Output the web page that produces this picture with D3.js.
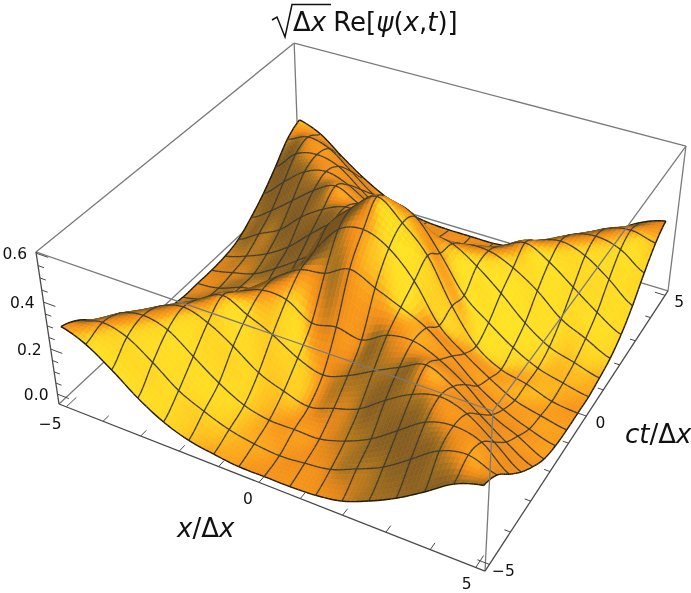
<!DOCTYPE html>
<html>
<head>
<meta charset="utf-8">
<script src="https://cdn.jsdelivr.net/npm/d3@7"></script>
<style>
  html, body { margin: 0; padding: 0; background: #fff; overflow: hidden; }
  text { font-family: "DejaVu Sans", sans-serif; fill: #111; }
  #chart { filter: blur(0.35px); }
</style>
</head>
<body>
<svg id="chart" width="691" height="593"></svg>
<script>
// mesh nodes along x and ct/dx
const gridX = [-5, -4.375, -3.75, -3.125, -2.5, -1.875, -1.25, -0.625, 0, 0.625, 1.25, 1.875, 2.5, 3.125, 3.75, 4.375, 5];
const gridY = [-5, -4.375, -3.75, -3.125, -2.5, -1.875, -1.25, -0.625, 0, 0.625, 1.25, 1.875, 2.5, 3.125, 3.75, 4.375, 5];

// surface height, one row per gridY value
const surfaceZ = [
  [.287, .248, .176, .092, .027, -.013, -.032, -.045, -.045, -.045, -.039, -.019, .027, .085, .157, .235, .274],
  [.248, .274, .248, .176, .092, .040, .000, -.022, -.032, -.022, -.006, .040, .092, .170, .248, .274, .235],
  [.176, .248, .274, .248, .170, .092, .033, .007, .007, .007, .040, .092, .170, .248, .274, .248, .157],
  [.092, .176, .248, .280, .248, .183, .105, .062, .033, .066, .105, .183, .248, .280, .248, .170, .085],
  [.027, .092, .170, .248, .300, .251, .202, .137, .101, .137, .196, .251, .300, .248, .170, .092, .027],
  [-.013, .040, .092, .183, .251, .293, .287, .222, .241, .222, .280, .293, .251, .183, .092, .040, -.019],
  [-.032, .000, .033, .105, .202, .287, .352, .371, .423, .378, .332, .280, .196, .105, .040, -.006, -.039],
  [-.045, -.022, .007, .062, .137, .222, .371, .495, .527, .482, .378, .222, .137, .066, .007, -.022, -.045],
  [-.045, -.032, .007, .033, .101, .241, .423, .527, .605, .527, .423, .241, .101, .033, .007, -.032, -.045],
  [-.045, -.022, .007, .066, .137, .222, .378, .482, .527, .495, .371, .222, .137, .062, .007, -.022, -.045],
  [-.039, -.006, .040, .105, .196, .280, .332, .378, .423, .371, .352, .287, .202, .105, .033, .000, -.032],
  [-.019, .040, .092, .183, .251, .293, .280, .222, .241, .222, .287, .293, .251, .183, .092, .040, -.013],
  [.027, .092, .170, .248, .300, .251, .196, .137, .101, .137, .202, .251, .300, .248, .170, .092, .027],
  [.085, .170, .248, .280, .248, .183, .105, .066, .033, .062, .105, .183, .248, .280, .248, .176, .092],
  [.157, .248, .274, .248, .170, .092, .040, .007, .007, .007, .033, .092, .170, .248, .274, .248, .176],
  [.235, .274, .248, .170, .092, .040, -.006, -.022, -.032, -.022, .000, .040, .092, .176, .248, .274, .248],
  [.274, .235, .157, .085, .027, -.019, -.039, -.045, -.045, -.045, -.032, -.013, .027, .092, .176, .248, .287]
];

const xTicks = [-5, -4, -3, -2, -1, 0, 1, 2, 3, 4, 5];
const xLabels = [-5, 0, 5];
const xLabelDx = [-16, -11, -9];
const zTicks = [0, .05, .1, .15, .2, .25, .3, .35, .4, .45, .5, .55, .6];
const zLabels = [0, .2, .4, .6];

const svg = d3.select('#chart');

// data -> unit box
const uScale = d3.scaleLinear().domain([-5.2, 5.2]).range([0, 1]);
const wScale = d3.scaleLinear().domain([-.045, .605]).range([0, 1]);

// camera fitted on the box corners
function project(u, v, w) {
  const d = 1 - .1153 * u + .2123 * v - .0657 * w;
  return [
    (59 + 370.1 * u + 303.7 * v - 25.4 * w) / d,
    (404 + 101.2 * u - 186 * v - 168.6 * w) / d,
    d
  ];
}

function catmull(p0, p1, p2, p3, t) {
  return .5 * (2 * p1 + (p2 - p0) * t + (2 * p0 - 5 * p1 + 4 * p2 - p3) * t * t + (3 * p1 - p0 - 3 * p2 + p3) * t * t * t);
}

const nx = gridX.length, ny = gridY.length;
const clampI = (a, n) => Math.max(0, Math.min(n - 1, a));

// height at fractional mesh position, in box units
function heightAt(s, t) {
  const i = Math.min(Math.floor(s), nx - 2), j = Math.min(Math.floor(t), ny - 2);
  const fs = s - i, ft = t - j;
  const col = [];
  for (let b = -1; b <= 2; b++) {
    const r = surfaceZ[clampI(j + b, ny)];
    col.push(catmull(r[clampI(i - 1, nx)], r[i], r[i + 1], r[clampI(i + 2, nx)], fs));
  }
  return wScale(catmull(col[0], col[1], col[2], col[3], ft));
}

const uAt = s => uScale(gridX[0] + (gridX[nx - 1] - gridX[0]) * s / (nx - 1));
const vAt = t => uScale(gridY[0] + (gridY[ny - 1] - gridY[0]) * t / (ny - 1));
const pointAt = (s, t) => project(uAt(s), vAt(t), heightAt(s, t));

const light = [.65, -.35, .67];
const shade = d3.scaleLinear()
  .domain([.15, .3, .42, .54, .64, .74, .84, .93, 1])
  .range(['#7a5520', '#8a6020', '#a8721e', '#dc841a', '#f08e1a', '#f8981a', '#fcab1c', '#ffcf21', '#ffe324'])
  .clamp(true);

// normal from central differences, wide enough to stay smooth across mesh cells
function cellColor(s, t) {
  const e = .35;
  const s0 = Math.max(s - e, 0), s1 = Math.min(s + e, nx - 1);
  const t0 = Math.max(t - e, 0), t1 = Math.min(t + e, ny - 1);
  const hx = (heightAt(s1, t) - heightAt(s0, t)) / (uAt(s1) - uAt(s0));
  const hy = (heightAt(s, t1) - heightAt(s, t0)) / (vAt(t1) - vAt(t0));
  const n = [-hx * .4, -hy * .4, 1];
  const len = Math.hypot(n[0], n[1], n[2]);
  return shade((n[0] * light[0] + n[1] * light[1] + n[2] * light[2]) / len);
}

const SUB = 6;
const items = [];
const pathOf = d3.line();
const meshColor = '#403f30', edgeColor = '#1f1a08';

for (let i = 0; i < (nx - 1) * SUB; i++) {
  for (let j = 0; j < (ny - 1) * SUB; j++) {
    const s0 = i / SUB, s1 = (i + 1) / SUB, t0 = j / SUB, t1 = (j + 1) / SUB;
    const pts = [pointAt(s0, t0), pointAt(s1, t0), pointAt(s1, t1), pointAt(s0, t1)];
    const col = cellColor((s0 + s1) / 2, (t0 + t1) / 2);
    items.push({
      d: pathOf(pts) + 'Z',
      depth: d3.mean(pts, p => p[2]),
      fill: col, stroke: col, width: .6
    });
    // mesh lines ride on the surface, a bit closer to the eye
    if (i % SUB === 0 || i === (nx - 1) * SUB - 1) {
      const sm = i % SUB === 0 ? s0 : s1;
      const edge = sm === 0 || sm === nx - 1;
      const a = pointAt(sm, t0), b = pointAt(sm, t1);
      items.push({ d: pathOf([a, b]), depth: (a[2] + b[2]) / 2 - .004, fill: 'none', stroke: edge ? edgeColor : meshColor, width: edge ? 1.4 : 1.3 });
    }
    if (j % SUB === 0 || j === (ny - 1) * SUB - 1) {
      const tm = j % SUB === 0 ? t0 : t1;
      const edge = tm === 0 || tm === ny - 1;
      const a = pointAt(s0, tm), b = pointAt(s1, tm);
      items.push({ d: pathOf([a, b]), depth: (a[2] + b[2]) / 2 - .004, fill: 'none', stroke: edge ? edgeColor : meshColor, width: edge ? 1.4 : 1.3 });
    }
  }
}
items.sort((a, b) => b.depth - a.depth);

// box edges: [start, end] in unit box
const backEdges = [
  [[0, 0, 0], [0, 1, 0]], [[0, 1, 0], [1, 1, 0]], [[0, 1, 0], [0, 1, 1]],
  [[0, 0, 1], [0, 1, 1]], [[0, 1, 1], [1, 1, 1]]
];
const frontEdges = [
  [[0, 0, 1], [1, 0, 1]], [[1, 0, 1], [1, 1, 1]], [[1, 0, 1], [1, 0, 0]], [[1, 1, 1], [1, 1, 0]]
];
const axisEdges = [
  [[0, 0, 0], [1, 0, 0]], [[1, 0, 0], [1, 1, 0]], [[0, 0, 0], [0, 0, 1]]
];

const edgePath = e => pathOf(e.map(c => project(c[0], c[1], c[2])));

svg.append('g').selectAll('path').data(backEdges).join('path')
  .attr('d', edgePath).attr('fill', 'none').attr('stroke', '#7a7a7a').attr('stroke-width', 1.3);

svg.append('g').selectAll('path').data(items).join('path')
  .attr('d', d => d.d)
  .attr('fill', d => d.fill)
  .attr('stroke', d => d.stroke)
  .attr('stroke-width', d => d.width)
  .attr('stroke-linejoin', 'round');

svg.append('g').selectAll('path').data(frontEdges).join('path')
  .attr('d', edgePath).attr('fill', 'none').attr('stroke', '#7a7a7a').attr('stroke-width', 1.3);

svg.append('g').selectAll('path').data(axisEdges).join('path')
  .attr('d', edgePath).attr('fill', 'none').attr('stroke', '#4a4a4a').attr('stroke-width', 1.3);

// ticks
const ticks = svg.append('g').attr('fill', 'none').attr('stroke', '#4a4a4a').attr('stroke-width', 1);
xTicks.forEach(t => {
  const major = xLabels.includes(t);
  const u = uScale(t);
  ticks.append('path').attr('d', pathOf([project(u, 0, 0), project(u, major ? .035 : .02, 0)]));
  ticks.append('path').attr('d', pathOf([project(1, u, 0), project(major ? .975 : .987, u, 0)]));
});
zTicks.forEach(t => {
  const major = zLabels.includes(t);
  const w = wScale(t);
  ticks.append('path').attr('d', pathOf([project(0, 0, w), project(major ? .03 : .015, 0, w)]));
});

// tick labels
const fmt = d3.format('.1f');
const num = t => String(t).replace('-', '\u2212');
const tickFont = 15.5;

svg.append('g').selectAll('text').data(zLabels).join('text')
  .attr('x', d => project(0, 0, wScale(d))[0] - 9)
  .attr('y', d => project(0, 0, wScale(d))[1] + 6)
  .attr('text-anchor', 'end').attr('font-size', tickFont).text(fmt);

svg.append('g').selectAll('text').data(xLabels).join('text')
  .attr('x', (d, i) => project(uScale(d), 0, 0)[0] + xLabelDx[i])
  .attr('y', d => project(uScale(d), 0, 0)[1] + 22)
  .attr('text-anchor', 'middle').attr('font-size', tickFont).text(num);

svg.append('g').selectAll('text').data(xLabels).join('text')
  .attr('x', d => project(1, uScale(d), 0)[0] + 14)
  .attr('y', d => project(1, uScale(d), 0)[1] + 12)
  .attr('text-anchor', 'middle').attr('font-size', tickFont).text(num);

// axis titles
const xt = svg.append('text').attr('x', 177).attr('y', 537).attr('font-size', 26);
xt.append('tspan').attr('font-style', 'italic').text('x');
xt.append('tspan').text('/\u0394');
xt.append('tspan').attr('font-style', 'italic').text('x');

const yt = svg.append('text').attr('x', 625).attr('y', 443).attr('font-size', 26);
yt.append('tspan').attr('font-style', 'italic').text('ct');
yt.append('tspan').text('/\u0394');
yt.append('tspan').attr('font-style', 'italic').text('x');

// title with radical
svg.append('path')
  .attr('d', 'M272,20 L277,17 L285,37 L292,4.5 L331,4.5')
  .attr('fill', 'none').attr('stroke', '#111').attr('stroke-width', 1.5);
const title = svg.append('text').attr('x', 293).attr('y', 31).attr('font-size', 26);
title.append('tspan').text('\u0394');
title.append('tspan').attr('font-style', 'italic').text('x');
title.append('tspan').attr('dx', 7).text('Re[');
title.append('tspan').attr('font-style', 'italic').text('\u03c8');
title.append('tspan').text('(');
title.append('tspan').attr('font-style', 'italic').text('x');
title.append('tspan').text(',');
title.append('tspan').attr('font-style', 'italic').text('t');
title.append('tspan').text(')]');
</script>
</body>
</html>
